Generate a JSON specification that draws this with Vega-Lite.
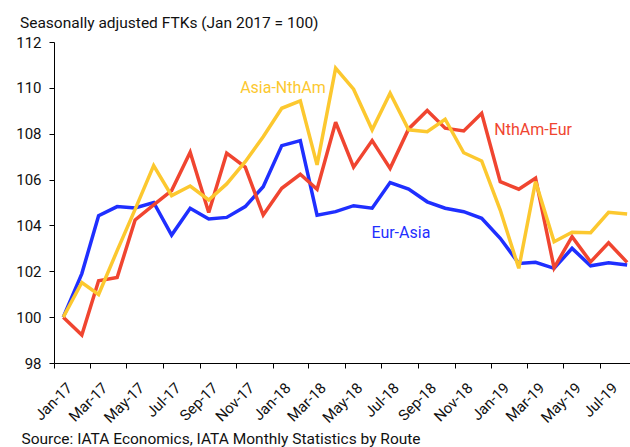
{
  "$schema": "https://vega.github.io/schema/vega-lite/v6.json",
  "width": 576,
  "height": 321,
  "autosize": {"type": "none"},
  "padding": {"left": 54, "top": 42, "right": 0, "bottom": 84},
  "background": "white",
  "config": {"view": {"stroke": null}, "font": "Roboto"},
  "title": {
    "text": "Seasonally adjusted FTKs (Jan 2017 = 100)",
    "anchor": "start",
    "frame": "group",
    "dx": -34,
    "offset": 4,
    "fontSize": 15.5,
    "fontWeight": "normal",
    "color": "#111111",
    "font": "Roboto"
  },
  "datasets": {
    "series": [
      {"month": "2017-01-01", "route": "Eur-Asia", "value": 100.0},
      {"month": "2017-02-01", "route": "Eur-Asia", "value": 101.9},
      {"month": "2017-03-01", "route": "Eur-Asia", "value": 104.42},
      {"month": "2017-04-01", "route": "Eur-Asia", "value": 104.82},
      {"month": "2017-05-01", "route": "Eur-Asia", "value": 104.76},
      {"month": "2017-06-01", "route": "Eur-Asia", "value": 105.0},
      {"month": "2017-07-01", "route": "Eur-Asia", "value": 103.58},
      {"month": "2017-08-01", "route": "Eur-Asia", "value": 104.75},
      {"month": "2017-09-01", "route": "Eur-Asia", "value": 104.28},
      {"month": "2017-10-01", "route": "Eur-Asia", "value": 104.35},
      {"month": "2017-11-01", "route": "Eur-Asia", "value": 104.82},
      {"month": "2017-12-01", "route": "Eur-Asia", "value": 105.69},
      {"month": "2018-01-01", "route": "Eur-Asia", "value": 107.48},
      {"month": "2018-02-01", "route": "Eur-Asia", "value": 107.7},
      {"month": "2018-03-01", "route": "Eur-Asia", "value": 104.45},
      {"month": "2018-04-01", "route": "Eur-Asia", "value": 104.6},
      {"month": "2018-05-01", "route": "Eur-Asia", "value": 104.86},
      {"month": "2018-06-01", "route": "Eur-Asia", "value": 104.75},
      {"month": "2018-07-01", "route": "Eur-Asia", "value": 105.87},
      {"month": "2018-08-01", "route": "Eur-Asia", "value": 105.59},
      {"month": "2018-09-01", "route": "Eur-Asia", "value": 105.03},
      {"month": "2018-10-01", "route": "Eur-Asia", "value": 104.75},
      {"month": "2018-11-01", "route": "Eur-Asia", "value": 104.6},
      {"month": "2018-12-01", "route": "Eur-Asia", "value": 104.31},
      {"month": "2019-01-01", "route": "Eur-Asia", "value": 103.44},
      {"month": "2019-02-01", "route": "Eur-Asia", "value": 102.34},
      {"month": "2019-03-01", "route": "Eur-Asia", "value": 102.39},
      {"month": "2019-04-01", "route": "Eur-Asia", "value": 102.13},
      {"month": "2019-05-01", "route": "Eur-Asia", "value": 103.0},
      {"month": "2019-06-01", "route": "Eur-Asia", "value": 102.24},
      {"month": "2019-07-01", "route": "Eur-Asia", "value": 102.37},
      {"month": "2019-08-01", "route": "Eur-Asia", "value": 102.27},
      {"month": "2017-01-01", "route": "NthAm-Eur", "value": 100.0},
      {"month": "2017-02-01", "route": "NthAm-Eur", "value": 99.22},
      {"month": "2017-03-01", "route": "NthAm-Eur", "value": 101.59},
      {"month": "2017-04-01", "route": "NthAm-Eur", "value": 101.73},
      {"month": "2017-05-01", "route": "NthAm-Eur", "value": 104.24},
      {"month": "2017-06-01", "route": "NthAm-Eur", "value": 104.9},
      {"month": "2017-07-01", "route": "NthAm-Eur", "value": 105.52},
      {"month": "2017-08-01", "route": "NthAm-Eur", "value": 107.19},
      {"month": "2017-09-01", "route": "NthAm-Eur", "value": 104.56},
      {"month": "2017-10-01", "route": "NthAm-Eur", "value": 107.15},
      {"month": "2017-11-01", "route": "NthAm-Eur", "value": 106.54},
      {"month": "2017-12-01", "route": "NthAm-Eur", "value": 104.45},
      {"month": "2018-01-01", "route": "NthAm-Eur", "value": 105.62},
      {"month": "2018-02-01", "route": "NthAm-Eur", "value": 106.23},
      {"month": "2018-03-01", "route": "NthAm-Eur", "value": 105.58},
      {"month": "2018-04-01", "route": "NthAm-Eur", "value": 108.5},
      {"month": "2018-05-01", "route": "NthAm-Eur", "value": 106.54},
      {"month": "2018-06-01", "route": "NthAm-Eur", "value": 107.7},
      {"month": "2018-07-01", "route": "NthAm-Eur", "value": 106.49},
      {"month": "2018-08-01", "route": "NthAm-Eur", "value": 108.21},
      {"month": "2018-09-01", "route": "NthAm-Eur", "value": 109.01},
      {"month": "2018-10-01", "route": "NthAm-Eur", "value": 108.24},
      {"month": "2018-11-01", "route": "NthAm-Eur", "value": 108.12},
      {"month": "2018-12-01", "route": "NthAm-Eur", "value": 108.89},
      {"month": "2019-01-01", "route": "NthAm-Eur", "value": 105.91},
      {"month": "2019-02-01", "route": "NthAm-Eur", "value": 105.58},
      {"month": "2019-03-01", "route": "NthAm-Eur", "value": 106.06},
      {"month": "2019-04-01", "route": "NthAm-Eur", "value": 102.15},
      {"month": "2019-05-01", "route": "NthAm-Eur", "value": 103.51},
      {"month": "2019-06-01", "route": "NthAm-Eur", "value": 102.41},
      {"month": "2019-07-01", "route": "NthAm-Eur", "value": 103.24},
      {"month": "2019-08-01", "route": "NthAm-Eur", "value": 102.39},
      {"month": "2017-01-01", "route": "Asia-NthAm", "value": 100.0},
      {"month": "2017-02-01", "route": "Asia-NthAm", "value": 101.51},
      {"month": "2017-03-01", "route": "Asia-NthAm", "value": 100.99},
      {"month": "2017-04-01", "route": "Asia-NthAm", "value": 102.9},
      {"month": "2017-05-01", "route": "Asia-NthAm", "value": 104.7},
      {"month": "2017-06-01", "route": "Asia-NthAm", "value": 106.61},
      {"month": "2017-07-01", "route": "Asia-NthAm", "value": 105.3},
      {"month": "2017-08-01", "route": "Asia-NthAm", "value": 105.72},
      {"month": "2017-09-01", "route": "Asia-NthAm", "value": 105.11},
      {"month": "2017-10-01", "route": "Asia-NthAm", "value": 105.81},
      {"month": "2017-11-01", "route": "Asia-NthAm", "value": 106.78},
      {"month": "2017-12-01", "route": "Asia-NthAm", "value": 107.87},
      {"month": "2018-01-01", "route": "Asia-NthAm", "value": 109.11},
      {"month": "2018-02-01", "route": "Asia-NthAm", "value": 109.43},
      {"month": "2018-03-01", "route": "Asia-NthAm", "value": 106.64},
      {"month": "2018-04-01", "route": "Asia-NthAm", "value": 110.86},
      {"month": "2018-05-01", "route": "Asia-NthAm", "value": 109.94},
      {"month": "2018-06-01", "route": "Asia-NthAm", "value": 108.17},
      {"month": "2018-07-01", "route": "Asia-NthAm", "value": 109.77},
      {"month": "2018-08-01", "route": "Asia-NthAm", "value": 108.17},
      {"month": "2018-09-01", "route": "Asia-NthAm", "value": 108.09},
      {"month": "2018-10-01", "route": "Asia-NthAm", "value": 108.63},
      {"month": "2018-11-01", "route": "Asia-NthAm", "value": 107.17},
      {"month": "2018-12-01", "route": "Asia-NthAm", "value": 106.81},
      {"month": "2019-01-01", "route": "Asia-NthAm", "value": 104.67},
      {"month": "2019-02-01", "route": "Asia-NthAm", "value": 102.13},
      {"month": "2019-03-01", "route": "Asia-NthAm", "value": 105.91},
      {"month": "2019-04-01", "route": "Asia-NthAm", "value": 103.29},
      {"month": "2019-05-01", "route": "Asia-NthAm", "value": 103.7},
      {"month": "2019-06-01", "route": "Asia-NthAm", "value": 103.68},
      {"month": "2019-07-01", "route": "Asia-NthAm", "value": 104.57},
      {"month": "2019-08-01", "route": "Asia-NthAm", "value": 104.5}
    ],
    "labels": [
      {"month": "2018-01-03", "route": "Asia-NthAm", "value": 110.0},
      {"month": "2019-02-25", "route": "NthAm-Eur", "value": 108.17},
      {"month": "2018-07-19", "route": "Eur-Asia", "value": 103.65}
    ]
  },
  "encoding": {
    "x": {
      "field": "month",
      "type": "temporal",
      "scale": {
        "type": "utc",
        "domain": [
          {"year": 2016, "month": 12, "date": 16, "hours": 12, "utc": true},
          {"year": 2019, "month": 8, "date": 5, "hours": 19, "utc": true}
        ]
      },
      "axis": {
        "title": "Source: IATA Economics, IATA Monthly Statistics by Route",
        "titleFont": "Roboto",
        "titleFontSize": 15.5,
        "titleFontWeight": "normal",
        "titleColor": "#111111",
        "titleAnchor": "start",
        "titleAlign": "left",
        "titleBaseline": "alphabetic",
        "titleX": -33,
        "titleY": 80,
        "tickCount": {"interval": "month", "step": 2},
        "labelExpr": "utcFormat(datum.value, '%b-%y')",
        "labelAngle": -45,
        "labelFontSize": 15,
        "labelColor": "#111111",
        "labelFont": "Roboto",
        "labelPadding": 12,
        "tickOffset": -9,
        "labelOffset": 10,
        "tickSize": 5,
        "tickColor": "#000000",
        "domainColor": "#000000",
        "grid": false,
        "labelOverlap": false,
        "labelBound": false,
        "labelFlush": false
      }
    },
    "y": {
      "field": "value",
      "type": "quantitative",
      "scale": {"domain": [98, 112], "nice": false, "zero": false},
      "axis": {
        "title": null,
        "values": [98, 100, 102, 104, 106, 108, 110, 112],
        "labelFontSize": 15,
        "labelColor": "#111111",
        "labelFont": "Roboto",
        "labelPadding": 8,
        "tickSize": 5,
        "tickColor": "#000000",
        "domainColor": "#000000",
        "grid": false
      }
    },
    "color": {
      "field": "route",
      "type": "nominal",
      "sort": null,
      "scale": {
        "domain": ["Eur-Asia", "NthAm-Eur", "Asia-NthAm"],
        "range": ["#1f2fff", "#f04530", "#fcc82f"]
      },
      "legend": null
    }
  },
  "layer": [
    {
      "data": {"name": "series"},
      "mark": {"type": "line", "strokeWidth": 3.5, "strokeJoin": "miter", "strokeMiterLimit": 3}
    },
    {
      "data": {"name": "labels"},
      "mark": {"type": "text", "fontSize": 16, "font": "Roboto", "align": "center", "baseline": "middle"},
      "encoding": {"text": {"field": "route"}}
    }
  ]
}
